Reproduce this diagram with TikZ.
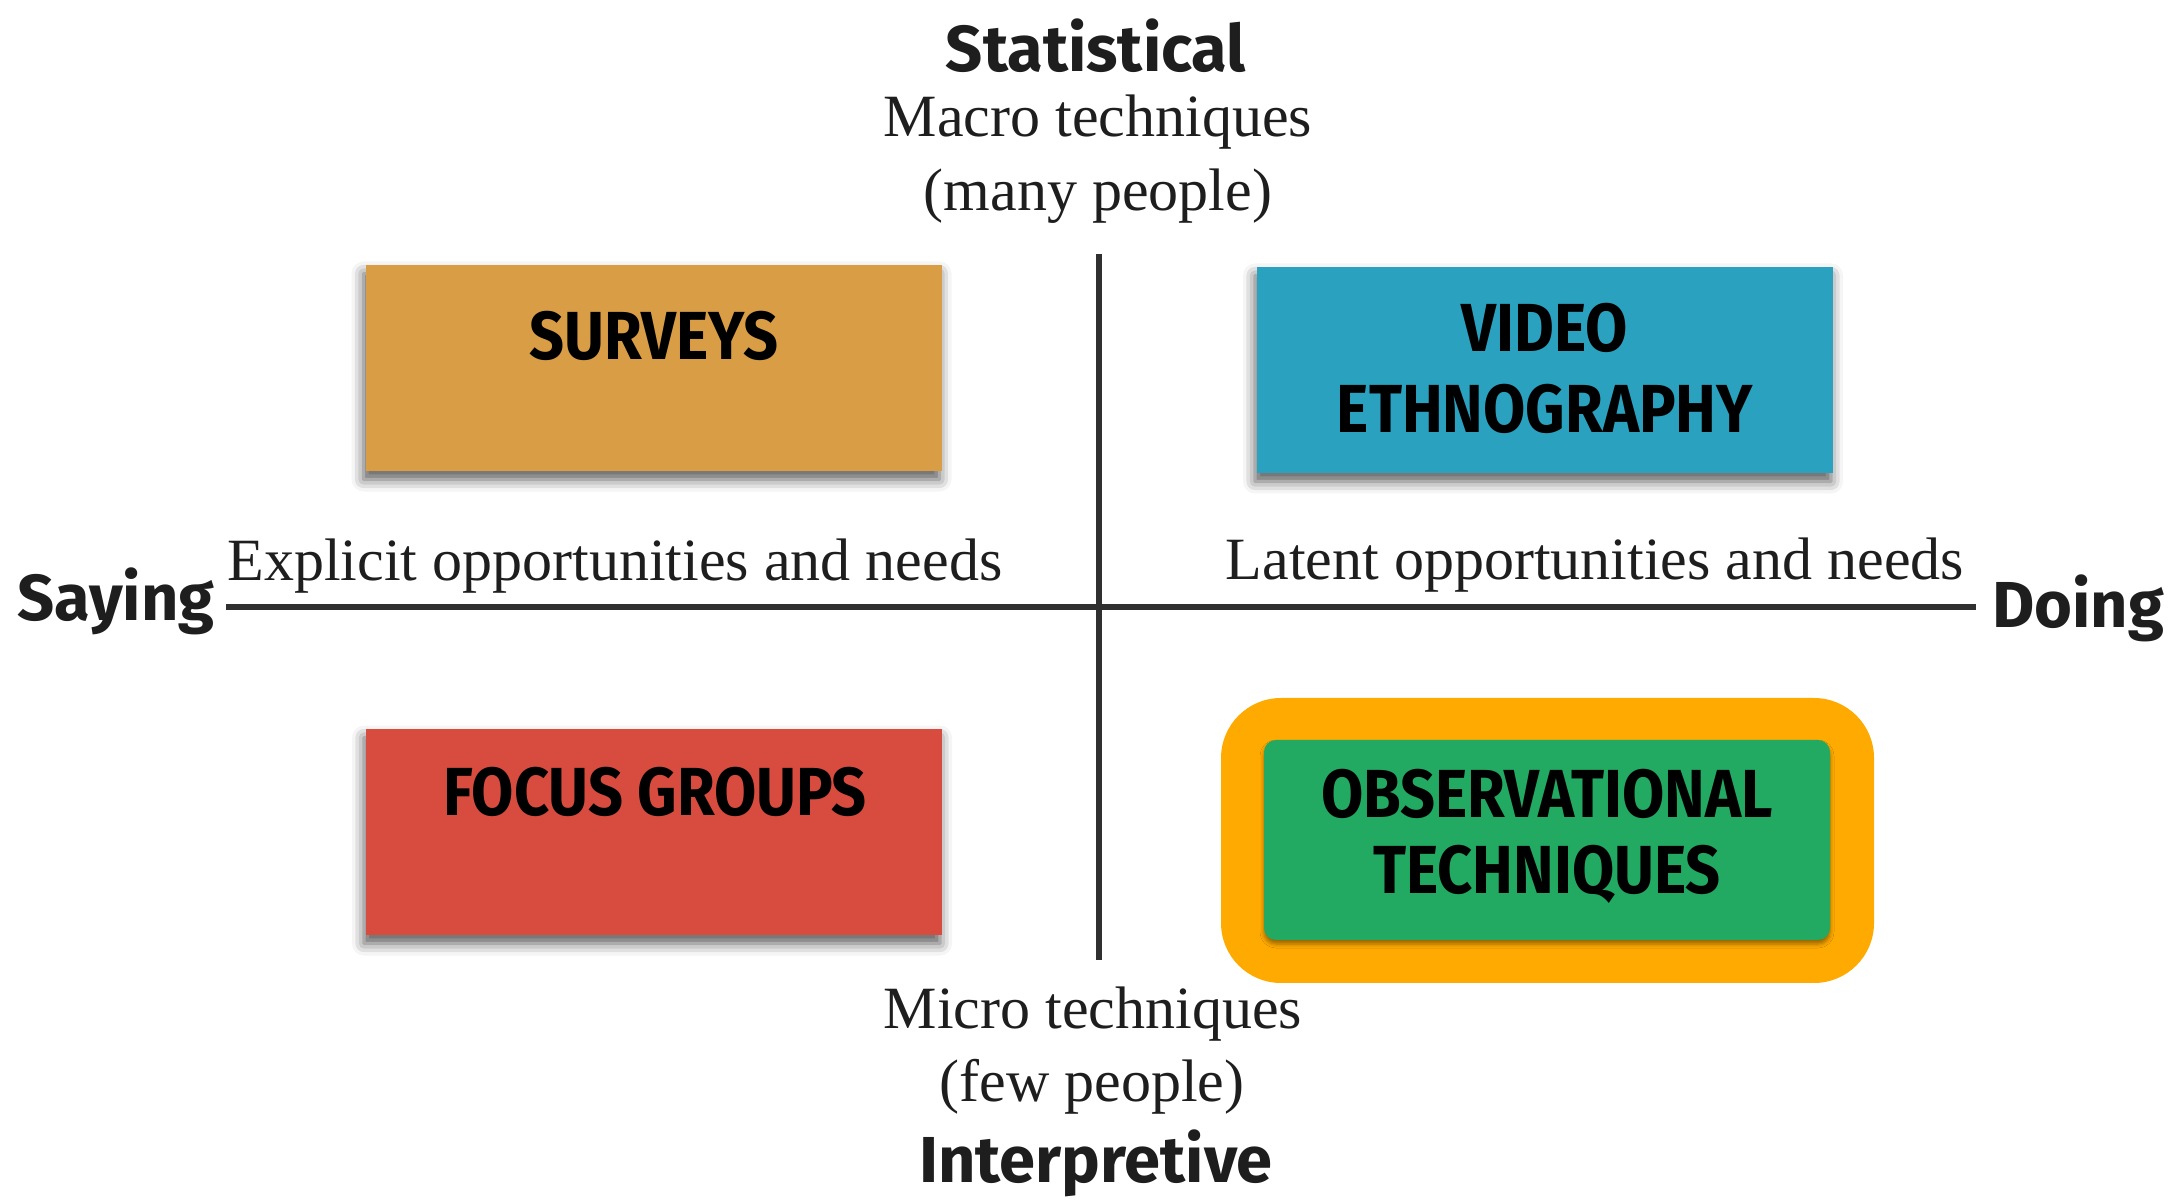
\documentclass[tikz,border=0pt]{standalone}
\usepackage{fontspec}
\setmainfont{Liberation Serif}
\newfontfamily\labfont[FakeStretch=0.9]{Fira Sans}
\newfontfamily\axfont{Fira Sans}
\usetikzlibrary{shadows.blur}
\definecolor{surveyc}{HTML}{D99D45}
\definecolor{videoc}{HTML}{2AA2BF}
\definecolor{focusc}{HTML}{D84C40}
\definecolor{obsc}{HTML}{22A962}
\definecolor{framec}{HTML}{FFAA00}
\definecolor{inkc}{HTML}{1E1E1E}
\definecolor{linec}{HTML}{303030}
\tikzset{
  quad/.style={inner sep=0pt, minimum width=288pt, minimum height=103pt,
    blur shadow={shadow xshift=-1pt, shadow yshift=-4pt, shadow blur radius=6pt, shadow opacity=65}},
  boxlab/.style={inner sep=0pt, text=black, font=\labfont\bfseries\fontsize{34}{38}\selectfont},
  axlab/.style={inner sep=0pt, text=inkc, font=\axfont\bfseries\fontsize{32.5}{38}\selectfont},
  serlab/.style={inner sep=0pt, text=inkc, font=\fontsize{30}{34}\selectfont},
  axis/.style={draw=linec, line width=2.8pt}
}
\begin{document}
\begin{tikzpicture}[x=0.5pt,y=-0.5pt]
\useasboundingbox (0,0) rectangle (2176,1202);

% axes
\coordinate (vt) at (1099,254);
\coordinate (vb) at (1099,960);
\coordinate (hl) at (226,607);
\coordinate (hr) at (1976,607);
\draw[axis] (vt) -- (vb);
\draw[axis] (hl) -- (hr);

% orange highlight frame
\node[draw=none, fill=framec, rounded corners=30pt, minimum width=326.5pt, minimum height=142.5pt, inner sep=0pt] (frame) at (1547.5,840.5) {};

% boxes
\node[quad, fill=surveyc] (surveys) at (653.5,368.5) {};
\node[quad, fill=videoc] (video) at (1545,370.5) {};
\node[quad, fill=focusc] (focus) at (654,832.5) {};
\node[inner sep=0pt, fill=obsc, rounded corners=6pt, minimum width=283pt, minimum height=100pt,
  blur shadow={shadow xshift=0pt, shadow yshift=-2pt, shadow blur radius=2pt, shadow opacity=40}] (obs) at (1547,840) {};

% box labels
\node[boxlab] (surveysL) at (654,336) {SURVEYS};
\node[boxlab] (videoL) at (1545,328) {VIDEO};
\node[boxlab] (ethnoL) at (1545,409) {ETHNOGRAPHY};
\node[boxlab] (focusL) at (655,792) {FOCUS GROUPS};
\node[boxlab] (obs1L) at (1547,794) {OBSERVATIONAL};
\node[boxlab] (obs2L) at (1547,874) {TECHNIQUES};

% axis labels
\node[axlab] (stat) at (1096,46) {Statistical};
\node[serlab] (macro) at (1098,122) {Macro techniques};
\node[serlab] (many) at (1098,196) {(many people)};
\node[serlab] (micro) at (1093,1014) {Micro techniques};
\node[serlab] (few) at (1092,1087) {(few people)};
\node[axlab] (interp) at (1096,1163) {Interpretive};
\node[axlab] (saying) at (116,601) {Saying};
\node[axlab] (doing) at (2078,608) {Doing};
\node[serlab] (explicit) at (615,566) {Explicit opportunities and needs};
\node[serlab] (latent) at (1595,565) {Latent opportunities and needs};
\end{tikzpicture}
\end{document}
